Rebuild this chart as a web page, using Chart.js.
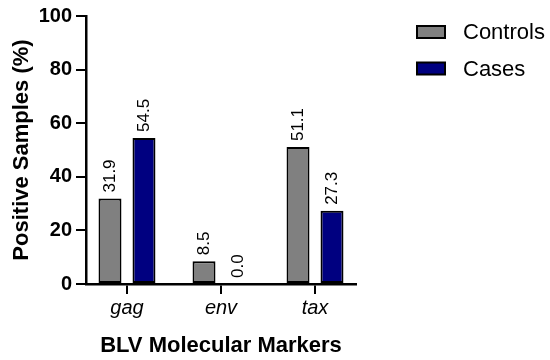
<!DOCTYPE html>
<html><head><meta charset="utf-8">
<script src="https://cdn.jsdelivr.net/npm/chart.js@4/dist/chart.umd.min.js"></script>
<style>html,body{margin:0;padding:0;background:#fff}#wrap{width:550px;height:360px;position:relative}</style>
</head><body><div id="wrap"><canvas id="c" width="550" height="360"></canvas></div>
<script>
const categories = ['gag', 'env', 'tax'];
const seriesNames = ['Controls', 'Cases'];
const controls = [31.9, 8.5, 51.1];
const cases = [54.5, 0.0, 27.3];
const yTickValues = [0, 20, 40, 60, 80, 100];
const xTitle = 'BLV Molecular Markers';
const yTitle = 'Positive Samples (%)';

const FONT = '"Liberation Sans", Arial, sans-serif';
const colors = ['#808080', '#000080'];

const toPoints = arr => arr.map((v, i) => ({ x: i, y: v }));

const valueLabels = {
  id: 'valueLabels',
  afterDatasetsDraw(chart) {
    const ctx = chart.ctx;
    ctx.save();
    ctx.fillStyle = '#000';
    ctx.font = '17px ' + FONT;
    chart.data.datasets.forEach((ds, di) => {
      const meta = chart.getDatasetMeta(di);
      meta.data.forEach((bar, i) => {
        const v = ds.data[i].y;
        ctx.save();
        ctx.translate(bar.x, bar.y - 6);
        ctx.rotate(-Math.PI / 2);
        ctx.textAlign = 'left';
        ctx.textBaseline = 'middle';
        ctx.fillText(v.toFixed(1), 0, 0);
        ctx.restore();
      });
    });
    ctx.restore();
  }
};

const customLegend = {
  id: 'customLegend',
  afterDraw(chart) {
    const ctx = chart.ctx;
    ctx.save();
    chart.data.datasets.forEach((ds, i) => {
      const cy = 32 + i * 36.5;
      ctx.fillStyle = ds.backgroundColor;
      ctx.fillRect(417, cy - 6, 28, 12);
      ctx.strokeStyle = '#000';
      ctx.lineWidth = 2;
      ctx.strokeRect(417, cy - 6, 28, 12);
      ctx.fillStyle = '#000';
      ctx.font = '22px ' + FONT;
      ctx.textAlign = 'left';
      ctx.textBaseline = 'middle';
      ctx.fillText(ds.label, 463, cy + 1);
    });
    ctx.restore();
  }
};

new Chart(document.getElementById('c'), {
  type: 'bar',
  data: {
    datasets: [
      { label: seriesNames[0], data: toPoints(controls), backgroundColor: colors[0], borderColor: '#000', borderWidth: 2, borderSkipped: false },
      { label: seriesNames[1], data: toPoints(cases), backgroundColor: colors[1], borderColor: '#000', borderWidth: 2, borderSkipped: false }
    ]
  },
  options: {
    responsive: false,
    animation: false,
    devicePixelRatio: 1,
    categoryPercentage: 0.723,
    barPercentage: 0.676,
    layout: { padding: { left: 0, right: 194, top: 15, bottom: 0 } },
    plugins: { legend: { display: false }, tooltip: { enabled: false } },
    scales: {
      x: {
        type: 'linear',
        offset: false,
        min: -0.436,
        max: 2.436,
        afterBuildTicks: s => { s.ticks = categories.map((c, i) => ({ value: i })); },
        afterFit: s => { s.height = 76; },
        border: { display: true, color: '#000', width: 2.5 },
        grid: { display: true, offset: false, drawOnChartArea: false, drawTicks: true, tickLength: 10, color: '#000', lineWidth: 2 },
        ticks: {
          callback: v => categories[v],
          font: { family: FONT, size: 20, style: 'italic' },
          color: '#000',
          padding: 2,
          maxRotation: 0
        },
        title: { display: true, text: xTitle, font: { family: FONT, size: 22, weight: 'bold' }, color: '#000', padding: { top: 0, bottom: 1 } }
      },
      y: {
        min: 0,
        max: 100,
        afterBuildTicks: s => { s.ticks = yTickValues.map(v => ({ value: v })); },
        afterFit: s => { s.width = 86; },
        border: { display: true, color: '#000', width: 2.5 },
        grid: { display: true, drawOnChartArea: false, drawTicks: true, tickLength: 10, color: '#000', lineWidth: 2 },
        ticks: { font: { family: FONT, size: 20, weight: 'bold' }, color: '#000', padding: 4 },
        title: { display: true, text: yTitle, font: { family: FONT, size: 22, weight: 'bold' }, color: '#000', padding: { top: 9, bottom: 0 } }
      }
    }
  },
  plugins: [valueLabels, customLegend]
});
</script>
</body></html>
